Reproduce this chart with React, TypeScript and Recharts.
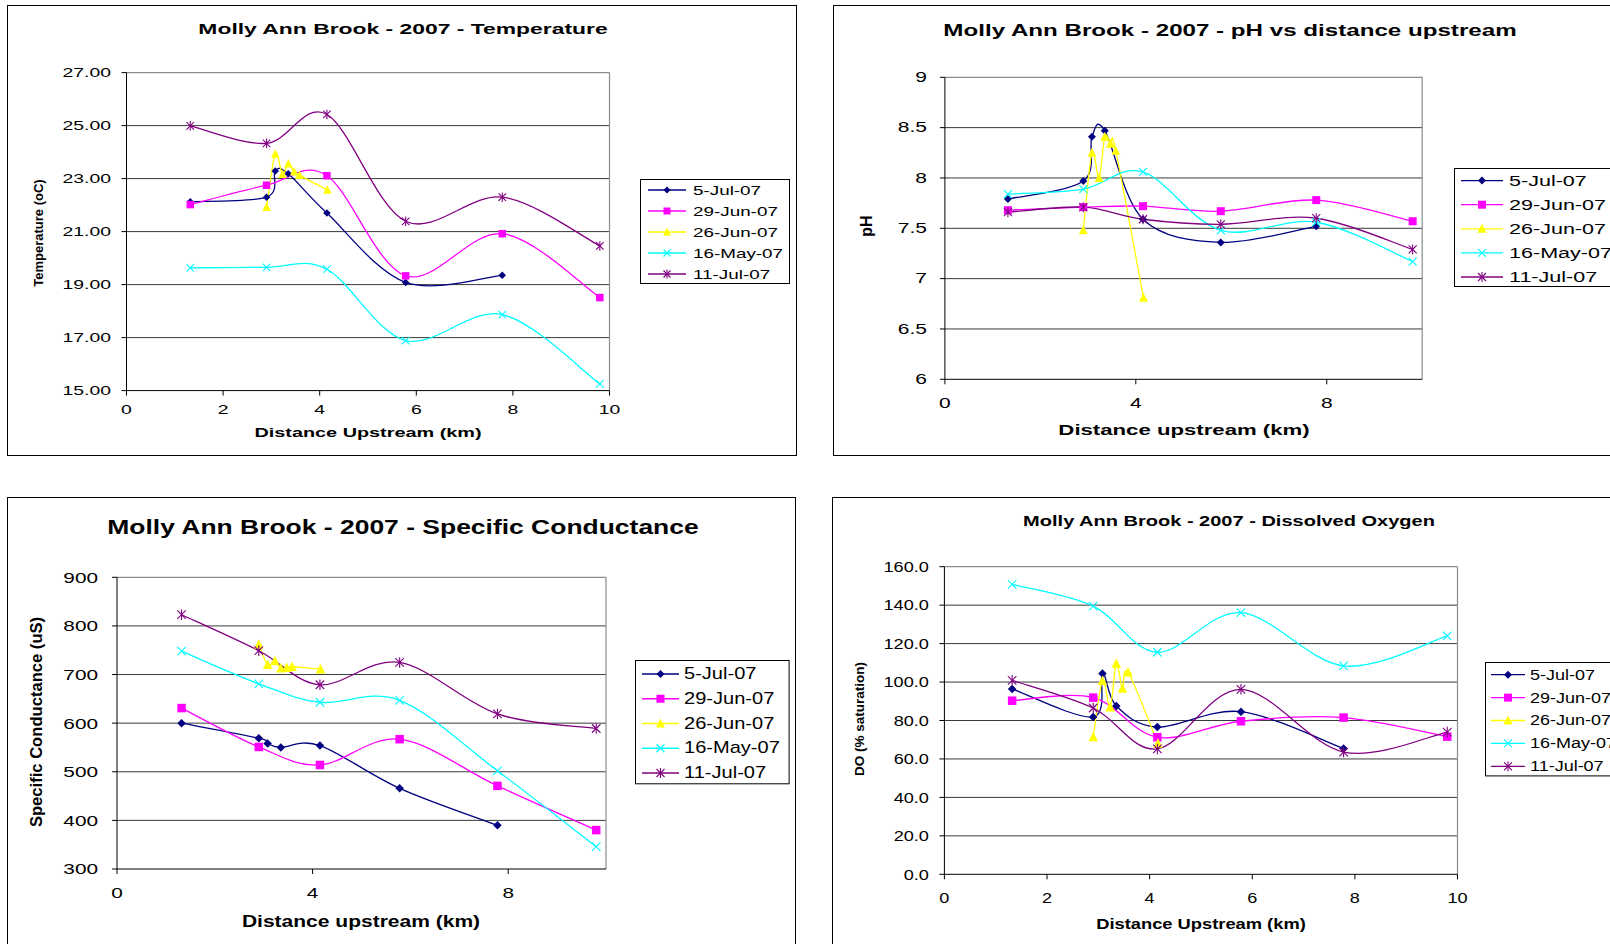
import React from 'react';
import { LineChart, Line, XAxis, YAxis, CartesianGrid, ReferenceLine, Legend } from 'recharts';

const FONT = '"Liberation Sans", Arial, Helvetica, sans-serif';

// ---- distances upstream (km) ----
const dist5Jul = [1.32, 2.9, 3.08, 3.35, 4.15, 5.78, 7.78];
const dist26Jun = [2.9, 3.08, 3.23, 3.35, 3.47, 3.58, 4.16];
const distOther = [1.32, 2.9, 4.15, 5.78, 7.78, 9.8];

// ---- series ----
const seriesNames = ['5-Jul-07', '29-Jun-07', '26-Jun-07', '16-May-07', '11-Jul-07'];
const seriesColors = ['#000080', '#FF00FF', '#FFFF00', '#00FFFF', '#800080'];
const seriesMarkers = ['diamond', 'square', 'triangle', 'x', 'star'];

// ---- Temperature (oC) ----
const temp5Jul = [22.13, 22.3, 23.29, 23.18, 21.7, 19.08, 19.35];
const temp29Jun = [22.02, 22.75, 23.11, 19.33, 20.92, 18.51];
const temp26Jun = [21.92, 23.93, 23.16, 23.56, 23.26, 23.13, 22.57];
const temp16May = [19.63, 19.65, 19.58, 16.89, 17.87, 15.25];
const temp11Jul = [24.99, 24.33, 25.42, 21.39, 22.3, 20.46];

// ---- pH ----
const ph5Jul = [7.79, 7.97, 8.41, 8.47, 7.59, 7.36, 7.52];
const ph29Jun = [7.68, 7.71, 7.72, 7.67, 7.78, 7.57];
const ph26Jun = [7.48, 8.25, 8.0, 8.41, 8.34, 8.27, 6.81];
const ph16May = [7.84, 7.89, 8.06, 7.48, 7.56, 7.17];
const ph11Jul = [7.66, 7.71, 7.59, 7.54, 7.6, 7.29];

// ---- Specific conductance (uS) ----
const cond5Jul = [600, 569, 558, 550, 554, 466, 390];
const cond29Jun = [631, 551, 514, 567, 471, 380];
const cond26Jun = [762, 720, 728, 713, 714, 716, 711];
const cond16May = [748, 681, 643, 647, 502, 346];
const cond11Jul = [823, 749, 679, 725, 619, 589];

// ---- Dissolved oxygen (% saturation) ----
const do5Jul = [96.4, 81.8, 104.4, 87.6, 76.6, 84.6, 65.4];
const do29Jun = [90.3, 91.9, 71.3, 79.6, 81.5, 71.6];
const do26Jun = [71.4, 100.7, 86.9, 109.6, 96.7, 105.1, 68.1];
const do16May = [150.8, 139.5, 115.5, 136.1, 108.4, 124];
const do11Jul = [100.9, 86.5, 65.2, 96.2, 63.6, 74];

// ---- ticks ----
const tempTicks = [15, 17, 19, 21, 23, 25, 27];
const phTicks = [6, 6.5, 7, 7.5, 8, 8.5, 9];
const condTicks = [300, 400, 500, 600, 700, 800, 900];
const doTicks = [0, 20, 40, 60, 80, 100, 120, 140, 160];
const xTicks2 = [0, 2, 4, 6, 8, 10];
const xTicks4 = [0, 4, 8];

const seriesDist = [dist5Jul, distOther, dist26Jun, distOther, distOther];

function toPoints(xs: number[], ys: number[]) {
  return xs.map((x, i) => ({ x, y: ys[i] }));
}

// Excel-like smoothed line (Catmull-Rom style Bezier)
function excelCurve(context: any) {
  let pts: number[][] = [];
  return {
    areaStart() {},
    areaEnd() {},
    lineStart() {
      pts = [];
    },
    point(x: number, y: number) {
      pts.push([+x, +y]);
    },
    lineEnd() {
      const n = pts.length;
      if (!n) return;
      context.moveTo(pts[0][0], pts[0][1]);
      for (let i = 0; i < n - 1; i++) {
        const p0 = pts[i - 1] || pts[i];
        const p1 = pts[i];
        const p2 = pts[i + 1];
        const p3 = pts[i + 2] || p2;
        const c1x = p1[0] + (p2[0] - p0[0]) / 6;
        const c1y = p1[1] + (p2[1] - p0[1]) / 6;
        const c2x = p2[0] - (p3[0] - p1[0]) / 6;
        const c2y = p2[1] - (p3[1] - p1[1]) / 6;
        context.bezierCurveTo(c1x, c1y, c2x, c2y, p2[0], p2[1]);
      }
    },
  };
}

function Marker({ shape, cx, cy, color, s }: any) {
  const h = s / 2;
  if (cx == null || cy == null) return null;
  switch (shape) {
    case 'diamond':
      return <polygon points={`${cx},${cy - h} ${cx + h},${cy} ${cx},${cy + h} ${cx - h},${cy}`} fill={color} />;
    case 'square':
      return <rect x={cx - h} y={cy - h} width={s} height={s} fill={color} />;
    case 'triangle':
      return <polygon points={`${cx},${cy - h - 1} ${cx + h + 0.5},${cy + h} ${cx - h - 0.5},${cy + h}`} fill={color} />;
    case 'x':
      return (
        <g stroke={color} strokeWidth={1.1}>
          <line x1={cx - h} y1={cy - h} x2={cx + h} y2={cy + h} />
          <line x1={cx - h} y1={cy + h} x2={cx + h} y2={cy - h} />
        </g>
      );
    default:
      return (
        <g stroke={color} strokeWidth={1.1}>
          <line x1={cx - h} y1={cy - h} x2={cx + h} y2={cy + h} />
          <line x1={cx - h} y1={cy + h} x2={cx + h} y2={cy - h} />
          <line x1={cx} y1={cy - h - 1} x2={cx} y2={cy + h + 1} />
        </g>
      );
  }
}

function TextAt({ x, y, text, fs, sx, bold, rotate }: any) {
  return (
    <div
      style={{
        position: 'absolute',
        left: x,
        top: y,
        transform: `translate(-50%,-50%) scaleX(${sx})${rotate ? ' rotate(-90deg)' : ''}`,
        fontFamily: FONT,
        fontSize: fs,
        fontWeight: bold ? 700 : 400,
        whiteSpace: 'nowrap',
        lineHeight: 1,
        color: '#000',
      }}
    >
      {text}
    </div>
  );
}

type LegendCfg = {
  left: number; top: number; width: number; height: number;
  first: number; step: number; lineX0: number; lineX1: number; textX: number;
  fs: number; sx: number; ms: number;
};

function LegendBox({ cfg }: { cfg: LegendCfg }) {
  return (
    <svg width={cfg.width} height={cfg.height} style={{ display: 'block', overflow: 'visible' }}>
      <rect x={0.5} y={0.5} width={cfg.width - 1} height={cfg.height - 1} fill="#fff" stroke="#000" strokeWidth={1} />
      {seriesNames.map((n, i) => {
        const y = cfg.first + i * cfg.step;
        return (
          <g key={n}>
            <line x1={cfg.lineX0} x2={cfg.lineX1} y1={y} y2={y} stroke={seriesColors[i]} strokeWidth={1.3} />
            <Marker shape={seriesMarkers[i]} cx={(cfg.lineX0 + cfg.lineX1) / 2} cy={y} color={seriesColors[i]} s={cfg.ms} />
            <text
              transform={`translate(${cfg.textX},${y}) scale(${cfg.sx},1)`}
              dominantBaseline="central"
              fontSize={cfg.fs}
              fontFamily={FONT}
              fill="#000"
            >
              {n}
            </text>
          </g>
        );
      })}
    </svg>
  );
}

type PanelCfg = {
  box: { left: number; top: number; width: number; height: number };
  plot: { left: number; top: number; right: number; bottom: number };
  title: string; titleAt: number[]; titleFs: number; titleSx: number;
  xLabel: string; xLabelAt: number[]; xLabelFs: number; xLabelSx: number;
  yLabel: string; yLabelAt: number[]; yLabelFs: number;
  yDomain: number[]; yTicks: number[]; yFmt: (v: number) => string; xTicks: number[];
  tickFs: number; tickSx: number; yGap: number; xGap: number;
  legend: LegendCfg;
  values: number[][];
  ms: number;
};

function Panel({ cfg }: { cfg: PanelCfg }) {
  const W = cfg.box.width;
  const H = 470;
  const yAxisW = 60;
  const xAxisH = 30;
  const margin = {
    left: cfg.plot.left - yAxisW,
    top: cfg.plot.top,
    right: W - cfg.plot.right,
    bottom: H - cfg.plot.bottom - xAxisH,
  };
  const gridVals = cfg.yTicks.slice(1, cfg.yTicks.length - 1);
  const yTick = (p: any) => (
    <text
      key={`yt${p.index}`}
      transform={`translate(${p.x},${p.y}) scale(${cfg.tickSx},1)`}
      textAnchor="end"
      dominantBaseline="central"
      fontSize={cfg.tickFs}
      fontFamily={FONT}
      fill="#000"
    >
      {cfg.yFmt(p.payload.value)}
    </text>
  );
  const xTick = (p: any) => (
    <text
      key={`xt${p.index}`}
      transform={`translate(${p.x},${p.y}) scale(${cfg.tickSx},1)`}
      textAnchor="middle"
      dominantBaseline="central"
      fontSize={cfg.tickFs}
      fontFamily={FONT}
      fill="#000"
    >
      {p.payload.value}
    </text>
  );
  const lg = cfg.legend;
  return (
    <>
      <div
        style={{
          position: 'absolute',
          left: cfg.box.left,
          top: cfg.box.top,
          width: cfg.box.width,
          height: cfg.box.height,
          border: '1px solid #000',
          boxSizing: 'border-box',
          background: '#fff',
        }}
      />
      <div style={{ position: 'absolute', left: cfg.box.left, top: cfg.box.top }}>
        <LineChart width={W} height={H} margin={margin}>
          <CartesianGrid horizontal vertical={false} stroke="#3a3a3a" horizontalValues={gridVals} />
          <XAxis
            type="number"
            dataKey="x"
            domain={[0, 10]}
            ticks={cfg.xTicks}
            interval={0}
            allowDataOverflow
            height={xAxisH}
            tickSize={5}
            tickMargin={cfg.xGap - 5}
            axisLine={{ stroke: '#000' }}
            tickLine={{ stroke: '#000' }}
            tick={xTick}
          />
          <YAxis
            type="number"
            domain={cfg.yDomain}
            ticks={cfg.yTicks}
            interval={0}
            allowDataOverflow
            width={yAxisW}
            tickSize={5}
            tickMargin={cfg.yGap - 5}
            axisLine={{ stroke: '#000' }}
            tickLine={{ stroke: '#000' }}
            tick={yTick}
          />
          <ReferenceLine y={cfg.yDomain[1]} stroke="#8c8c8c" strokeWidth={1.2} />
          <ReferenceLine x={10} stroke="#8c8c8c" strokeWidth={1.2} />
          {seriesNames.map((name, i) => (
            <Line
              key={name}
              name={name}
              data={toPoints(seriesDist[i], cfg.values[i])}
              dataKey="y"
              type={excelCurve as any}
              stroke={seriesColors[i]}
              strokeWidth={1.3}
              isAnimationActive={false}
              activeDot={false}
              dot={(p: any) => (
                <Marker key={`m${i}-${p.index}`} shape={seriesMarkers[i]} cx={p.cx} cy={p.cy} color={seriesColors[i]} s={cfg.ms} />
              )}
            />
          ))}
          <Legend
            layout="vertical"
            align="center"
            verticalAlign="middle"
            wrapperStyle={{ left: lg.left, top: lg.top, width: lg.width, height: lg.height, margin: 0, padding: 0 }}
            content={() => <LegendBox cfg={lg} />}
          />
        </LineChart>
      </div>
      <TextAt x={cfg.titleAt[0]} y={cfg.titleAt[1]} text={cfg.title} fs={cfg.titleFs} sx={cfg.titleSx} bold />
      <TextAt x={cfg.xLabelAt[0]} y={cfg.xLabelAt[1]} text={cfg.xLabel} fs={cfg.xLabelFs} sx={cfg.xLabelSx} bold />
      <TextAt x={cfg.yLabelAt[0]} y={cfg.yLabelAt[1]} text={cfg.yLabel} fs={cfg.yLabelFs} sx={1} bold rotate />
    </>
  );
}

const panels: PanelCfg[] = [
  {
    box: { left: 7, top: 5, width: 790, height: 451 },
    plot: { left: 119.5, top: 67.6, right: 602.5, bottom: 385.6 },
    title: 'Molly Ann Brook - 2007 - Temperature', titleAt: [402.5, 28.8], titleFs: 14.3, titleSx: 1.6,
    xLabel: 'Distance Upstream (km)', xLabelAt: [368, 432.7], xLabelFs: 13.5, xLabelSx: 1.47,
    yLabel: 'Temperature (oC)', yLabelAt: [37.6, 232.5], yLabelFs: 13,
    yDomain: [15, 27], yTicks: tempTicks, yFmt: (v) => v.toFixed(2), xTicks: xTicks2,
    tickFs: 12.5, tickSx: 1.55, yGap: 15.5, xGap: 19.2,
    legend: { left: 633, top: 174, width: 150, height: 105, first: 11, step: 21, lineX0: 8, lineX1: 46, textX: 53, fs: 13, sx: 1.45, ms: 7 },
    values: [temp5Jul, temp29Jun, temp26Jun, temp16May, temp11Jul],
    ms: 7.5,
  },
  {
    box: { left: 833, top: 5, width: 800, height: 451 },
    plot: { left: 111.9, top: 72.3, right: 589.2, bottom: 374.3 },
    title: 'Molly Ann Brook - 2007 - pH vs distance upstream', titleAt: [1229.6, 30], titleFs: 17, titleSx: 1.42,
    xLabel: 'Distance upstream (km)', xLabelAt: [1184, 429.5], xLabelFs: 15.4, xLabelSx: 1.44,
    yLabel: 'pH', yLabelAt: [866.8, 225.8], yLabelFs: 16,
    yDomain: [6, 9], yTicks: phTicks, yFmt: (v) => String(v), xTicks: xTicks4,
    tickFs: 14, tickSx: 1.5, yGap: 18, xGap: 24,
    legend: { left: 620.7, top: 162.7, width: 190, height: 119, first: 12.6, step: 24.1, lineX0: 7, lineX1: 49, textX: 55, fs: 15.4, sx: 1.4, ms: 8 },
    values: [ph5Jul, ph29Jun, ph26Jun, ph16May, ph11Jul],
    ms: 8,
  },
  {
    box: { left: 7, top: 497, width: 789, height: 460 },
    plot: { left: 110, top: 80.3, right: 599, bottom: 372 },
    title: 'Molly Ann Brook - 2007 - Specific Conductance', titleAt: [403, 528], titleFs: 19.6, titleSx: 1.35,
    xLabel: 'Distance upstream (km)', xLabelAt: [360.6, 921.7], xLabelFs: 15.8, xLabelSx: 1.33,
    yLabel: 'Specific Conductance (uS)', yLabelAt: [36.9, 721.7], yLabelFs: 16.6,
    yDomain: [300, 900], yTicks: condTicks, yFmt: (v) => String(v), xTicks: xTicks4,
    tickFs: 15.4, tickSx: 1.35, yGap: 19, xGap: 24,
    legend: { left: 627.8, top: 162.7, width: 154.6, height: 124.3, first: 14, step: 24.75, lineX0: 7, lineX1: 44, textX: 49, fs: 15.8, sx: 1.27, ms: 8 },
    values: [cond5Jul, cond29Jun, cond26Jun, cond16May, cond11Jul],
    ms: 8.5,
  },
  {
    box: { left: 832, top: 497, width: 800, height: 460 },
    plot: { left: 112.4, top: 69.7, right: 625.5, bottom: 377.3 },
    title: 'Molly Ann Brook - 2007 - Dissolved Oxygen', titleAt: [1229.1, 520.5], titleFs: 15.4, titleSx: 1.3,
    xLabel: 'Distance Upstream (km)', xLabelAt: [1201.2, 923], xLabelFs: 15, xLabelSx: 1.22,
    yLabel: 'DO (% saturation)', yLabelAt: [860, 719], yLabelFs: 13.5,
    yDomain: [0, 160], yTicks: doTicks, yFmt: (v) => v.toFixed(1), xTicks: xTicks2,
    tickFs: 14.4, tickSx: 1.26, yGap: 15.5, xGap: 23.2,
    legend: { left: 652.7, top: 165.3, width: 180, height: 114.4, first: 12.7, step: 22.9, lineX0: 6, lineX1: 40, textX: 45, fs: 15, sx: 1.2, ms: 8 },
    values: [do5Jul, do29Jun, do26Jun, do16May, do11Jul],
    ms: 8.5,
  },
];

export default function App() {
  return (
    <div
      style={{
        position: 'absolute',
        left: 0,
        top: 0,
        width: 1610,
        height: 944,
        overflow: 'hidden',
        background: '#fff',
      }}
    >
      {panels.map((p, i) => (
        <Panel key={i} cfg={p} />
      ))}
    </div>
  );
}
